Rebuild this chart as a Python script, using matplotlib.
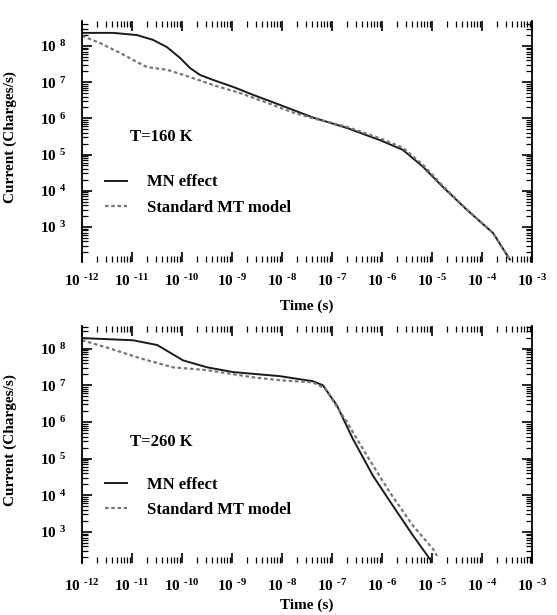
import math
import matplotlib
matplotlib.use("Agg")
import matplotlib.pyplot as plt
from matplotlib.ticker import LogLocator, FuncFormatter, NullFormatter, FixedLocator

plt.rcParams['font.family'] = ['Liberation Serif', 'DejaVu Serif']
plt.rcParams['font.weight'] = 'bold'
plt.rcParams['mathtext.fontset'] = 'custom'
plt.rcParams['mathtext.rm'] = 'Liberation Serif:bold'
plt.rcParams['mathtext.it'] = 'Liberation Serif:italic:bold'
plt.rcParams['mathtext.bf'] = 'Liberation Serif:bold'

# ---- data ----
# T = 160 K
t160_mn = [1.0e-12, 4.2e-12, 1.26e-11, 2.6e-11, 5.0e-11, 9.1e-11, 1.45e-10, 2.3e-10,
           4.2e-10, 1.05e-9, 2.6e-9, 9.1e-9, 2.0e-8, 4.2e-8, 2.0e-7, 9.1e-7, 2.6e-6,
           6.6e-6, 1.66e-5, 5.0e-5, 1.66e-4, 3.6e-4]
i160_mn = [2.3e8, 2.3e8, 2.0e8, 1.48e8, 9.3e7, 4.7e7, 2.45e7, 1.58e7,
           1.15e7, 7.4e6, 4.5e6, 2.35e6, 1.55e6, 1.05e6, 5.4e5, 2.5e5, 1.35e5,
           4.6e4, 1.26e4, 2.95e3, 6.8e2, 1.26e2]
t160_mt = [1.0e-12, 2.3e-12, 5.8e-12, 1.26e-11, 2.0e-11, 5.0e-11, 1.45e-10, 4.2e-10,
           1.45e-9, 5.0e-9, 1.66e-8, 4.2e-8, 2.0e-7, 9.1e-7, 2.6e-6, 6.6e-6, 1.66e-5,
           5.0e-5, 1.66e-4, 3.6e-4]
i160_mt = [1.9e8, 1.2e8, 6.4e7, 3.6e7, 2.6e7, 2.2e7, 1.38e7, 8.3e6,
           5.0e6, 2.7e6, 1.45e6, 1.0e6, 5.8e5, 2.8e5, 1.55e5, 5.2e4, 1.35e4,
           3.0e3, 6.8e2, 1.26e2]
# T = 260 K
t260_mn = [1.0e-12, 1.05e-11, 3.2e-11, 1.05e-10, 3.2e-10, 1.05e-9, 9.1e-9, 4.2e-8,
           6.6e-8, 1.26e-7, 2.6e-7, 6.6e-7, 1.66e-6, 4.2e-6, 9.1e-6]
i260_mn = [1.95e8, 1.7e8, 1.26e8, 4.8e7, 3.1e7, 2.3e7, 1.78e7, 1.29e7,
           1.0e7, 2.8e6, 3.5e5, 3.4e4, 5.1e3, 7.8e2, 1.8e2]
t260_mt = [1.0e-12, 3.6e-12, 1.45e-11, 6.6e-11, 3.2e-10, 2.6e-9, 9.1e-9, 4.2e-8,
           7.2e-8, 2.0e-7, 5.0e-7, 1.45e-6, 4.2e-6, 1.05e-5, 1.26e-5]
i260_mt = [1.7e8, 1.02e8, 5.5e7, 3.1e7, 2.6e7, 1.66e7, 1.38e7, 1.2e7,
           8.3e6, 9.8e5, 1.2e5, 1.17e4, 1.45e3, 3.4e2, 2.2e2]

series_labels = ["MN effect", "Standard MT model"]
panel_titles = ["T=160 K", "T=260 K"]
x_label = "Time (s)"
y_label = "Current (Charges/s)"
y_major = [1e3, 1e4, 1e5, 1e6, 1e7, 1e8]

W, H = 557, 615
fig = plt.figure(figsize=(W / 100, H / 100), dpi=100)

def frac(left, right, top, bottom):
    return [left / W, 1 - bottom / H, (right - left) / W, (bottom - top) / H]

ax1 = fig.add_axes(frac(82, 532, 21, 262))
ax2 = fig.add_axes(frac(82, 532, 326, 563))

def exp_fmt(v, pos):
    e = int(round(math.log10(v)))
    if e < 0:
        return r'$10^{\;\;\text{-}%d}$' % (-e)
    return r'$10^{\;\;%d}$' % e

panels = [
    (ax1, t160_mn, i160_mn, t160_mt, i160_mt, panel_titles[0], (10**2.03, 10**8.69), 8, -0.183, 0.519),
    (ax2, t260_mn, i260_mn, t260_mt, i260_mt, panel_titles[1], (10**2.15, 10**8.62), 11, -0.177, 0.51),
]

for ax, tm, im, ts, is_, title, ylim, xpad, xlab_y, title_y in panels:
    ax.plot(tm, im, color='#1a1a1a', lw=1.4, ls='-', label=series_labels[0])
    ax.plot(ts, is_, color='#777777', lw=1.6, ls=(0, (1.6, 1.2)), label=series_labels[1])
    ax.set_xscale('log')
    ax.set_yscale('log')
    ax.set_xlim(1e-12, 1e-3)
    ax.set_ylim(*ylim)
    ax.xaxis.set_major_locator(LogLocator(base=10, numticks=20))
    ax.xaxis.set_minor_locator(LogLocator(base=10, subs=range(2, 10), numticks=200))
    ax.yaxis.set_major_locator(FixedLocator(y_major))
    ax.yaxis.set_minor_locator(LogLocator(base=10, subs=range(2, 10), numticks=200))
    ax.xaxis.set_major_formatter(FuncFormatter(exp_fmt))
    ax.yaxis.set_major_formatter(FuncFormatter(exp_fmt))
    ax.xaxis.set_minor_formatter(NullFormatter())
    ax.yaxis.set_minor_formatter(NullFormatter())
    ax.tick_params(which='both', direction='in', top=True, right=True, colors='black')
    ax.tick_params(which='major', length=7, width=1.2)
    ax.tick_params(which='minor', length=4, width=0.9)
    ax.tick_params(axis='x', which='major', pad=xpad, labelsize=11)
    ax.tick_params(axis='y', which='major', pad=11, labelsize=11)
    for s in ('top', 'bottom'):
        ax.spines[s].set_visible(False)
    for s in ('left', 'right'):
        ax.spines[s].set_linewidth(1.3)
    ax.set_xlabel(x_label, fontsize=11, fontweight='bold')
    ax.xaxis.set_label_coords(0.5, xlab_y)
    ax.xaxis.label.set_va('center')
    ax.set_ylabel(y_label, fontsize=11, fontweight='bold')
    ax.yaxis.set_label_coords(-0.145, 0.52)
    ax.text(0.107, title_y, title, transform=ax.transAxes, fontsize=12,
            fontweight='bold', ha='left', va='center')
    ax.legend(loc='center left', bbox_to_anchor=(0.051, 0.278), frameon=False,
              borderpad=0, borderaxespad=0, handlelength=1.3, handletextpad=1.25,
              labelspacing=0.55, prop={'family': 'Liberation Serif', 'weight': 'bold', 'size': 12})

fig.savefig('out.png', dpi=100)
